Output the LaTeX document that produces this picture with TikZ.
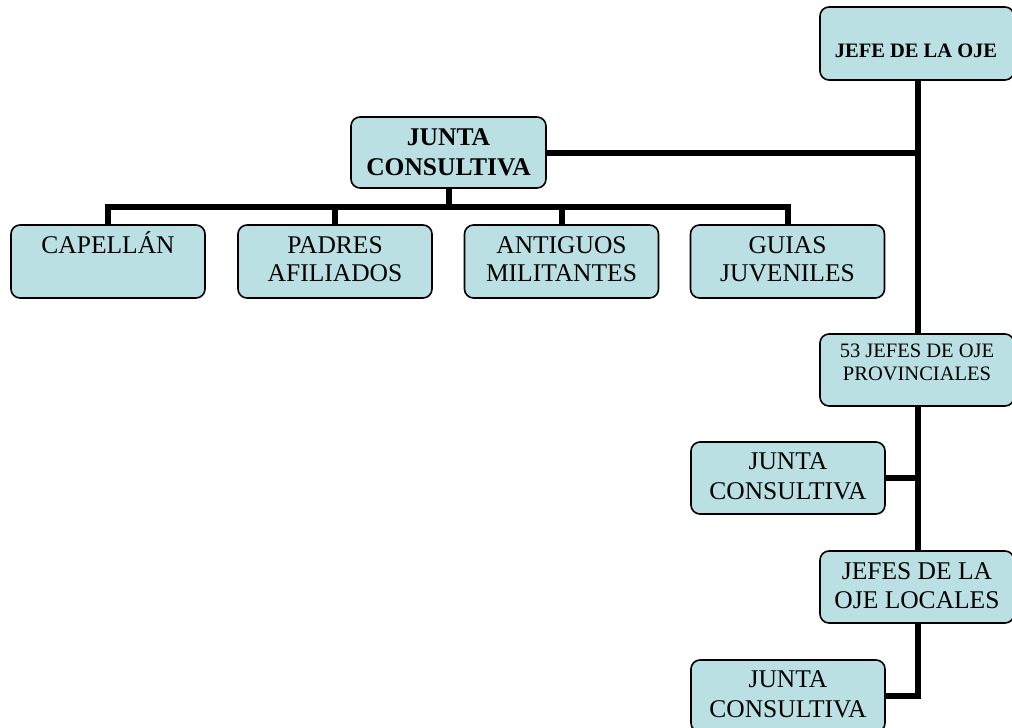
\documentclass[tikz,border=0pt]{standalone}
\usepackage{fontspec}
\setmainfont{Liberation Serif}
\usetikzlibrary{backgrounds}
\definecolor{boxfill}{RGB}{186,224,227}
\newcommand{\boxtext}[3]{\parbox[t]{210pt}{\centering\fontsize{#1}{#2}\selectfont #3}}
\tikzset{
  orgbox/.style={draw=black, line width=1.6pt, rounded corners=9pt, fill=boxfill,
    inner sep=0pt, minimum width=194pt, minimum height=72pt},
  txt/.style={anchor=base, inner sep=0pt},
  conn/.style={line width=6pt, line join=miter, draw=black}
}
\begin{document}
\begin{tikzpicture}[x=1pt, y=-1pt]
\useasboundingbox (0,0) rectangle (1012,728);
\clip (0,0) rectangle (1012,728);
% boxes
\node[orgbox, minimum height=73pt] (jefe) at (917,43.5) {};
\node[orgbox, minimum width=195pt, minimum height=71pt] (junta1) at (448.5,152.5) {};
\node[orgbox, minimum height=73pt] (capellan) at (108,261.5) {};
\node[orgbox, minimum height=73pt] (padres) at (335,261.5) {};
\node[orgbox, minimum height=73pt] (antiguos) at (561.5,261.5) {};
\node[orgbox, minimum height=73pt] (guias) at (787.5,261.5) {};
\node[orgbox] (prov) at (917,370) {};
\node[orgbox] (junta2) at (788,478) {};
\node[orgbox] (locales) at (917,587) {};
\node[orgbox] (junta3) at (788,696) {};
% texts
\node[txt] (jefe-t) at (916,57) {\boxtext{20.5}{24}{\bfseries JEFE DE LA OJE}};
\node[txt] (junta1-t) at (448.5,145) {\boxtext{25.5}{30}{\bfseries JUNTA\\CONSULTIVA}};
\node[txt] (capellan-t) at (108,253) {\boxtext{25.5}{28.5}{CAPELLÁN}};
\node[txt] (padres-t) at (335,253) {\boxtext{25.5}{28.5}{PADRES\\AFILIADOS}};
\node[txt] (antiguos-t) at (561.5,253) {\boxtext{25.5}{28.5}{ANTIGUOS\\MILITANTES}};
\node[txt] (guias-t) at (787.5,253) {\boxtext{25.5}{28.5}{GUIAS\\JUVENILES}};
\node[txt] (prov-t) at (917,357) {\boxtext{20.5}{23.5}{53 JEFES DE OJE\\PROVINCIALES}};
\node[txt] (junta2-t) at (788,469.5) {\boxtext{25.5}{30}{JUNTA\\CONSULTIVA}};
\node[txt] (locales-t) at (917,579) {\boxtext{25.5}{29}{JEFES DE LA\\OJE LOCALES}};
\node[txt] (junta3-t) at (788,687) {\boxtext{25.5}{30}{JUNTA\\CONSULTIVA}};
% connectors
\begin{scope}[on background layer]
\coordinate (bus) at (448.5,207);
\draw[conn] (918,80) coordinate (jtop) -- (918,334) coordinate (ptop);
\draw[conn] (jefe.south -| jtop) -- (prov.north -| jtop);
\draw[conn] (prov.south -| jtop) -- (locales.north -| jtop);
\draw[conn] (locales.south -| jtop) |- (junta3.east);
\draw[conn] (junta2.east) -- (junta2.east -| jtop);
\draw[conn] (junta1.east) -- (junta1.east -| jtop);
\draw[conn] (junta1.south) -- (bus);
\draw[conn] (capellan.north) -- (capellan.north |- bus) -- (guias.north |- bus) -- (guias.north);
\draw[conn] (padres.north) -- (padres.north |- bus);
\draw[conn] (antiguos.north) -- (antiguos.north |- bus);
\end{scope}
\end{tikzpicture}
\end{document}
